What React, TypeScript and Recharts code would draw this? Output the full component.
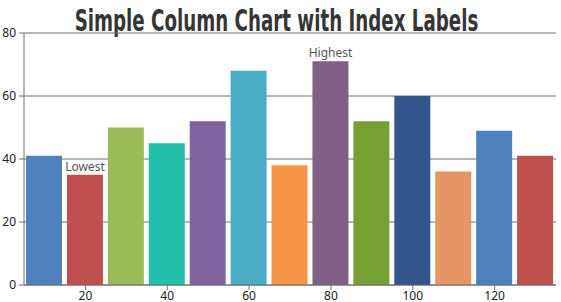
import React from "react";
import { BarChart, Bar, XAxis, YAxis, CartesianGrid, Cell, LabelList } from "recharts";

const xValues = [10, 20, 30, 40, 50, 60, 70, 80, 90, 100, 110, 120, 130];
const yValues = [41, 35, 50, 45, 52, 68, 38, 71, 52, 60, 36, 49, 41];
const indexLabels = ["", "Lowest", "", "", "", "", "", "Highest", "", "", "", "", ""];
const colors = ["#4F81BC", "#C0504E", "#9BBB58", "#23BFAA", "#8064A1", "#4AACC5", "#F79647", "#7F6084", "#77A033", "#33558B", "#E59566", "#4F81BC", "#C0504E"];
const xTicks = [20, 40, 60, 80, 100, 120];
const yTicks = [0, 20, 40, 60, 80];
const title = "Simple Column Chart with Index Labels";

const data = xValues.map((x, i) => ({ x, y: yValues[i], label: indexLabels[i] }));

export default function App() {
  return (
    <div style={{ position: "absolute", left: 0, top: 0, width: 561, height: 302, background: "#fff" }}>
      <div
        style={{
          position: "absolute",
          left: 0,
          top: 0,
          width: 561,
          textAlign: "center",
          fontFamily: "'DejaVu Sans Condensed', 'DejaVu Sans', sans-serif",
          fontStretch: "condensed",
          fontWeight: "bold",
          fontSize: 20.3,
          lineHeight: "20px",
          color: "#353535",
          transform: "translate(-4px, 6px) scaleY(1.45)",
          transformOrigin: "center top",
        }}
      >
        {title}
      </div>
      <BarChart width={561} height={302} data={data} margin={{ top: 33, right: 5, bottom: 0, left: 0 }}>
        <CartesianGrid horizontal={true} vertical={false} stroke="#6e6e6e" strokeDasharray="" />
        <XAxis
          dataKey="x"
          type="number"
          domain={[5, 135]}
          ticks={xTicks}
          allowDataOverflow
          height={17}
          tickSize={5}
          tickMargin={1}
          stroke="#6e6e6e"
          tick={{ fill: "#222", fontSize: 12, fontFamily: "'Noto Sans', sans-serif" }}
        />
        <YAxis
          type="number"
          domain={[0, 80]}
          ticks={yTicks}
          width={24}
          tickSize={5}
          tickMargin={3}
          stroke="#6e6e6e"
          tick={{ fill: "#222", fontSize: 12, fontFamily: "'Noto Sans', sans-serif" }}
        />
        <Bar dataKey="y" barSize={36} isAnimationActive={false}>
          {data.map((d, i) => (
            <Cell key={i} fill={colors[i]} />
          ))}
          <LabelList dataKey="label" position="top" offset={4} fill="#555" fontSize={12} fontFamily="'Noto Sans', sans-serif" />
        </Bar>
      </BarChart>
    </div>
  );
}
